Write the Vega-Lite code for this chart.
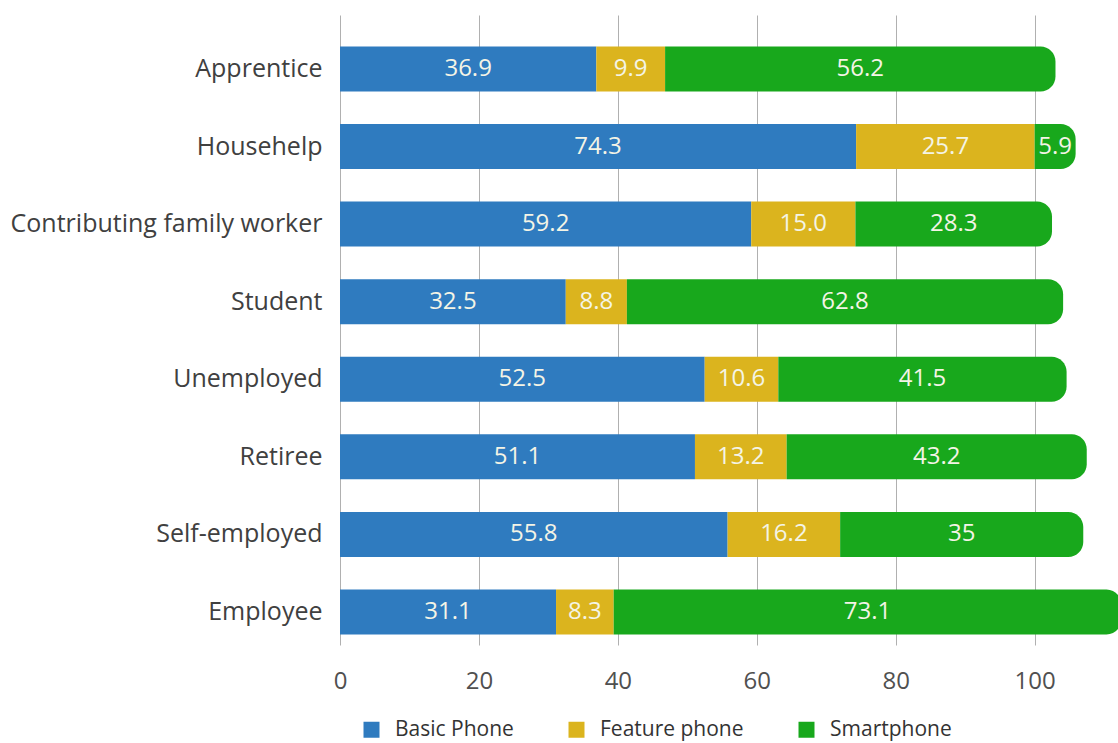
{
  "$schema": "https://vega.github.io/schema/vega-lite/v6.json",
  "width": 778,
  "height": 630,
  "autosize": {"type": "none"},
  "padding": {"left": 340, "top": 15, "right": 0, "bottom": 98},
  "config": {"font": "Open Sans", "view": {"stroke": null}},
  "data": {"values": [
    {"job": "Apprentice", "type": "Basic Phone", "value": 36.9, "label": "36.9"},
    {"job": "Apprentice", "type": "Feature phone", "value": 9.9, "label": "9.9"},
    {"job": "Apprentice", "type": "Smartphone", "value": 56.2, "label": "56.2"},
    {"job": "Househelp", "type": "Basic Phone", "value": 74.3, "label": "74.3"},
    {"job": "Househelp", "type": "Feature phone", "value": 25.7, "label": "25.7"},
    {"job": "Househelp", "type": "Smartphone", "value": 5.9, "label": "5.9"},
    {"job": "Contributing family worker", "type": "Basic Phone", "value": 59.2, "label": "59.2"},
    {"job": "Contributing family worker", "type": "Feature phone", "value": 15.0, "label": "15.0"},
    {"job": "Contributing family worker", "type": "Smartphone", "value": 28.3, "label": "28.3"},
    {"job": "Student", "type": "Basic Phone", "value": 32.5, "label": "32.5"},
    {"job": "Student", "type": "Feature phone", "value": 8.8, "label": "8.8"},
    {"job": "Student", "type": "Smartphone", "value": 62.8, "label": "62.8"},
    {"job": "Unemployed", "type": "Basic Phone", "value": 52.5, "label": "52.5"},
    {"job": "Unemployed", "type": "Feature phone", "value": 10.6, "label": "10.6"},
    {"job": "Unemployed", "type": "Smartphone", "value": 41.5, "label": "41.5"},
    {"job": "Retiree", "type": "Basic Phone", "value": 51.1, "label": "51.1"},
    {"job": "Retiree", "type": "Feature phone", "value": 13.2, "label": "13.2"},
    {"job": "Retiree", "type": "Smartphone", "value": 43.2, "label": "43.2"},
    {"job": "Self-employed", "type": "Basic Phone", "value": 55.8, "label": "55.8"},
    {"job": "Self-employed", "type": "Feature phone", "value": 16.2, "label": "16.2"},
    {"job": "Self-employed", "type": "Smartphone", "value": 35, "label": "35"},
    {"job": "Employee", "type": "Basic Phone", "value": 31.1, "label": "31.1"},
    {"job": "Employee", "type": "Feature phone", "value": 8.3, "label": "8.3"},
    {"job": "Employee", "type": "Smartphone", "value": 73.1, "label": "73.1"}
  ]},
  "transform": [
    {"stack": "value", "groupby": ["job"], "sort": [{"field": "type", "order": "ascending"}], "as": ["x0", "x1"]}
  ],
  "encoding": {
    "y": {
      "field": "job", "type": "nominal",
      "sort": ["Apprentice", "Househelp", "Contributing family worker", "Student", "Unemployed", "Retiree", "Self-employed", "Employee"],
      "scale": {"paddingInner": 0.42, "paddingOuter": 0.27, "align": 0.75},
      "axis": {"title": null, "ticks": false, "domain": false, "labelFontSize": 25, "labelColor": "#404040", "labelPadding": 18, "labelLimit": 400}
    }
  },
  "layer": [
    {
      "transform": [{"filter": "datum.type !== 'Smartphone'"}],
      "mark": {"type": "bar"},
      "encoding": {
        "x": {"field": "x0", "type": "quantitative",
          "scale": {"domain": [0, 112], "nice": false, "zero": true},
          "axis": {"title": null, "values": [0, 20, 40, 60, 80, 100], "ticks": false, "domain": false, "grid": true, "gridColor": "#b0b0b0", "gridWidth": 1, "gridOpacity": 1, "labelFontSize": 24, "labelColor": "#505050", "labelPadding": 24, "labelFlush": false}},
        "x2": {"field": "x1"},
        "color": {"field": "type", "type": "nominal",
          "scale": {"domain": ["Basic Phone", "Feature phone", "Smartphone"], "range": ["#2f7bbf", "#dbb41e", "#18a81c"]},
          "legend": {"title": null, "orient": "none", "direction": "horizontal", "legendX": 21, "legendY": 704, "symbolType": "square", "symbolSize": 256, "symbolStrokeWidth": 0, "labelFontSize": 21, "labelColor": "#333333", "labelOffset": 13, "columnPadding": 52}}
      }
    },
    {
      "transform": [{"filter": "datum.type === 'Smartphone'"}],
      "mark": {"type": "bar", "cornerRadiusTopRight": 15, "cornerRadiusBottomRight": 15},
      "encoding": {
        "x": {"field": "x0", "type": "quantitative"},
        "x2": {"field": "x1"},
        "color": {"field": "type", "type": "nominal"}
      }
    },
    {
      "mark": {"type": "text", "fontSize": 24, "color": "#f4f4e6", "align": "center", "baseline": "middle"},
      "encoding": {
        "x": {"field": "value", "type": "quantitative", "stack": "zero", "bandPosition": 0.5},
        "detail": {"field": "type"},
        "order": {"field": "type", "sort": "ascending"},
        "text": {"field": "label"}
      }
    }
  ]
}
